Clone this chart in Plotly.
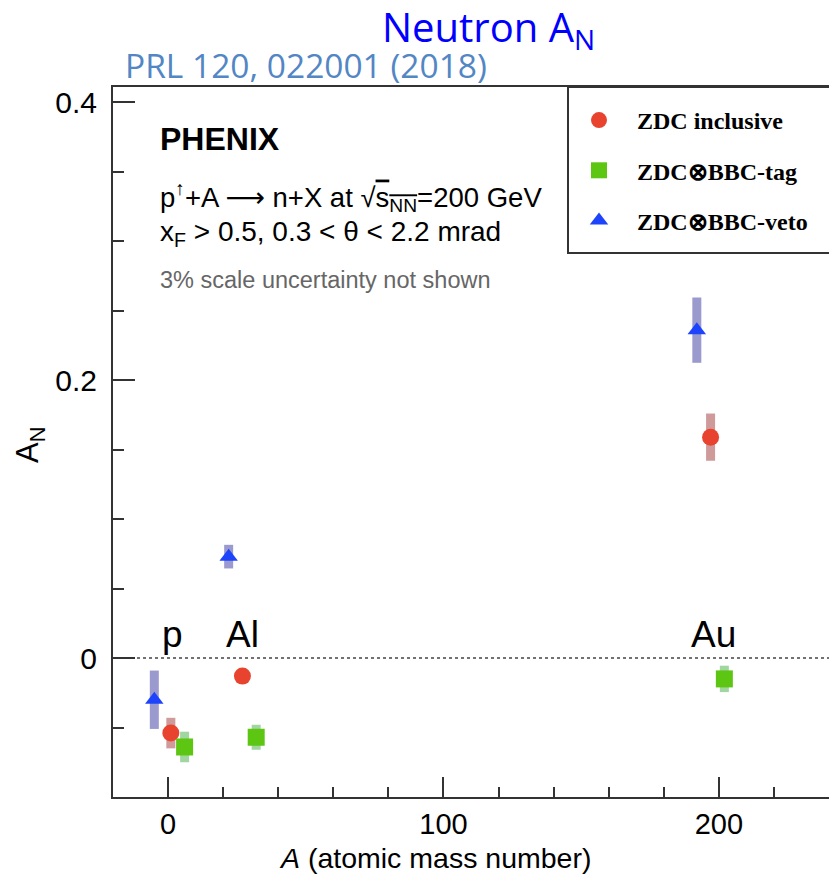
import plotly.graph_objects as go

# Neutron single-spin asymmetry A_N versus nuclear mass number (PHENIX)
series_names = ["ZDC inclusive", "ZDC⊗BBC-tag", "ZDC⊗BBC-veto"]

# x positions: A = 1 (p), 27 (Al), 197 (Au), shifted slightly per selection for visibility
incl_x = [1, 27, 197]
incl_y = [-0.054, -0.013, 0.159]
incl_err = [0.011, 0.004, 0.017]

tag_x = [6, 32, 202]
tag_y = [-0.064, -0.057, -0.015]
tag_err = [0.011, 0.009, 0.0095]

veto_x = [-5, 22, 192]
veto_y = [-0.030, 0.073, 0.236]
veto_err = [0.021, 0.0085, 0.0235]

nucleus_labels = ["p", "Al", "Au"]

W, H = 829, 877
ML, MR, MT, MB = 113, 0, 87, 80
PW, PH = W - ML - MR, H - MT - MB


def px(x):
    return (x - ML) / PW


def py(y):
    return (H - MB - y) / PH


marker_colors = ["#e8432e", "#5cc612", "#1e44fb"]
bar_colors = ["rgba(190,120,120,0.75)", "rgba(130,200,130,0.75)", "rgba(120,120,190,0.75)"]
symbols = ["circle", "square", "triangle-up"]
sizes = [17, 17, 16]

fig = go.Figure()
for i, (xs, ys, es) in enumerate([(incl_x, incl_y, incl_err),
                                  (tag_x, tag_y, tag_err),
                                  (veto_x, veto_y, veto_err)]):
    fig.add_trace(go.Scatter(
        x=xs, y=ys, mode="markers", name="<b>" + series_names[i] + "</b>",
        legendgroup=str(i),
        marker=dict(symbol=symbols[i], size=sizes[i], color=marker_colors[i],
                    line=dict(width=0)),
        error_y=dict(type="data", array=es, visible=True, width=0,
                     thickness=9, color=bar_colors[i]),
    ))

axis_color = "#333333"
fig.update_layout(
    width=W, height=H,
    margin=dict(l=ML, r=MR, t=MT, b=MB),
    paper_bgcolor="white", plot_bgcolor="white",
    showlegend=True,
    legend=dict(
        x=px(561), y=py(98), xanchor="left", yanchor="top",
        bgcolor="rgba(0,0,0,0)", borderwidth=0,
        font=dict(family="Liberation Serif", size=24, color="black"),
        traceorder="grouped", tracegroupgap=16,
        itemsizing="trace", itemwidth=66,
    ),
    xaxis=dict(
        range=[-20, 240], showgrid=False, zeroline=False,
        showline=True, linewidth=2, linecolor=axis_color, mirror=True,
        ticks="inside", ticklen=20, tickwidth=2, tickcolor=axis_color,
        dtick=100, tick0=0,
        tickfont=dict(family="Liberation Sans", size=29, color="black"),
        minor=dict(dtick=20, ticks="inside", ticklen=10, tickwidth=2,
                   tickcolor=axis_color),
    ),
    yaxis=dict(
        range=[-0.1, 0.411], showgrid=False, zeroline=False,
        showline=True, linewidth=2, linecolor=axis_color, mirror=False,
        ticks="inside", ticklen=22, tickwidth=2, tickcolor=axis_color,
        dtick=0.2, tick0=0,
        tickfont=dict(family="Liberation Sans", size=30, color="black"),
        ticklabelstandoff=8,
        minor=dict(dtick=0.05, ticks="inside", ticklen=11, tickwidth=2,
                   tickcolor=axis_color),
    ),
)

# dotted reference line at A_N = 0
fig.add_shape(type="line", xref="paper", yref="y", x0=0, x1=1, y0=0, y1=0,
              line=dict(color="#444444", width=1.5, dash="dot"), layer="below")

# legend frame, running off the right edge of the page
fig.add_shape(type="rect", xref="paper", yref="paper",
              x0=px(568), x1=px(900), y0=py(253), y1=py(87),
              line=dict(color=axis_color, width=2), fillcolor="rgba(0,0,0,0)")

ann = []
ann.append(dict(text="Neutron A<sub>N</sub>", x=px(488), y=py(28),
                xanchor="center", yanchor="middle",
                font=dict(family="Open Sans", size=40, color="#0000ff")))
ann.append(dict(text="PRL 120, 022001 (2018)", x=px(123), y=py(65),
                xanchor="left", yanchor="middle",
                font=dict(family="Open Sans", size=33.5, color="#5286c4")))
ann.append(dict(text="<b>PHENIX</b>", x=px(158), y=py(139),
                xanchor="left", yanchor="middle",
                font=dict(family="Liberation Sans", size=32, color="black")))
ann.append(dict(text="p<sup>↑</sup>+A <span style='font-family:DejaVu Sans'>⟶</span> n+X at √<span style='text-decoration:overline'>s<sub>NN</sub></span>=200 GeV",
                x=px(158), y=py(197), xanchor="left", yanchor="middle",
                font=dict(family="Liberation Sans", size=27.5, color="black")))
ann.append(dict(text="x<sub>F</sub> > 0.5, 0.3 < θ < 2.2 mrad",
                x=px(158), y=py(234), xanchor="left", yanchor="middle",
                font=dict(family="Liberation Sans", size=28, color="black")))
ann.append(dict(text="3% scale uncertainty not shown",
                x=px(158), y=py(280), xanchor="left", yanchor="middle",
                font=dict(family="Liberation Sans", size=23.5, color="#666666")))
ann.append(dict(text="<i>A</i> (atomic mass number)", x=px(277), y=py(858),
                xanchor="left", yanchor="middle",
                font=dict(family="Liberation Sans", size=28.5, color="black")))
ann.append(dict(text="A<sub>N</sub>", x=px(30), y=py(445), textangle=-90,
                xanchor="center", yanchor="middle",
                font=dict(family="Liberation Sans", size=31, color="black")))
for lab, cx in zip(nucleus_labels, [172, 242, 713]):
    ann.append(dict(text=lab, x=px(cx), y=py(634), xanchor="center",
                    yanchor="middle",
                    font=dict(family="Liberation Sans", size=37, color="black")))

for a in ann:
    a.update(xref="paper", yref="paper", showarrow=False)
fig.update_layout(annotations=ann)

fig.write_html("out.html")
